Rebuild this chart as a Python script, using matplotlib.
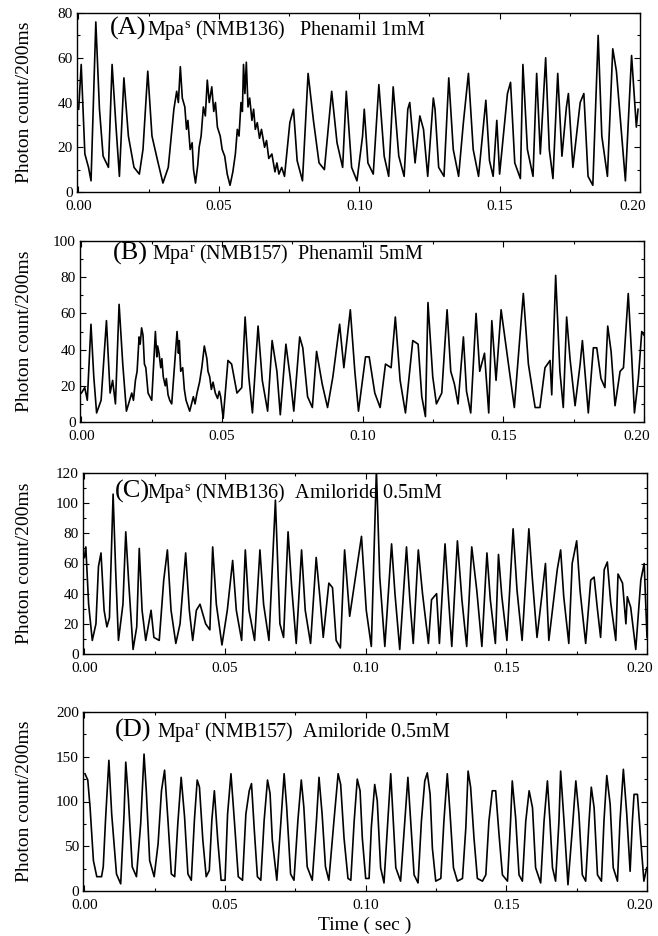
import matplotlib
matplotlib.use("Agg")
import matplotlib.pyplot as plt
import matplotlib.transforms as mtransforms
from matplotlib.ticker import MultipleLocator, FormatStrFormatter

plt.rcParams['font.family'] = ['Liberation Serif', 'DejaVu Serif']
plt.rcParams['mathtext.fontset'] = 'custom'
plt.rcParams['mathtext.rm'] = 'Liberation Serif'
plt.rcParams['mathtext.it'] = 'Liberation Serif:italic'

# (A) Mpa^s, phenamil 1 mM (sec, counts)
a_t = [0.0001, 0.0010, 0.0023, 0.0036, 0.0045, 0.0062, 0.0075, 0.0088, 0.0107, 0.0120,
       0.0133, 0.0146, 0.0162, 0.0178, 0.0198, 0.0217, 0.0230, 0.0247, 0.0262, 0.0282,
       0.0301, 0.0320, 0.0340, 0.0350, 0.0356, 0.0363, 0.0370, 0.0379, 0.0385, 0.0390,
       0.0398, 0.0405, 0.0410, 0.0417, 0.0425, 0.0430, 0.0437, 0.0445, 0.0452, 0.0459,
       0.0466, 0.0475, 0.0482, 0.0488, 0.0495, 0.0505, 0.0512, 0.0521, 0.0530, 0.0540,
       0.0550, 0.0559, 0.0566, 0.0572, 0.0579, 0.0584, 0.0588, 0.0593, 0.0598, 0.0604,
       0.0610, 0.0618, 0.0624, 0.0630, 0.0637, 0.0645, 0.0652, 0.0663, 0.0670, 0.0678,
       0.0689, 0.0700, 0.0707, 0.0714, 0.0724, 0.0734, 0.0753, 0.0766, 0.0779, 0.0798,
       0.0818, 0.0837, 0.0857, 0.0876, 0.0902, 0.0921, 0.0941, 0.0954, 0.0973, 0.0992,
       0.1012, 0.1018, 0.1031, 0.1050, 0.1070, 0.1089, 0.1105, 0.1121, 0.1141, 0.1160,
       0.1173, 0.1180, 0.1199, 0.1216, 0.1229, 0.1244, 0.1264, 0.1270, 0.1283, 0.1302,
       0.1319, 0.1335, 0.1354, 0.1371, 0.1389, 0.1406, 0.1425, 0.1444, 0.1451, 0.1464,
       0.1477, 0.1490, 0.1500, 0.1528, 0.1539, 0.1554, 0.1574, 0.1583, 0.1599, 0.1619,
       0.1632, 0.1645, 0.1664, 0.1677, 0.1690, 0.1707, 0.1722, 0.1738, 0.1745, 0.1761,
       0.1787, 0.1800, 0.1815, 0.1832, 0.1851, 0.1864, 0.1884, 0.1903, 0.1916, 0.1929,
       0.1948, 0.1970, 0.1987, 0.1993]
a_y = [37, 57, 17, 11, 5, 76, 37, 16, 11, 57,
       31, 7, 51, 25, 11, 8, 19, 54, 25, 14,
       4, 11, 37, 45, 40, 56, 42, 38, 28, 32,
       19, 22, 10, 4, 12, 20, 25, 38, 34, 50,
       40, 47, 36, 40, 29, 25, 19, 16, 8, 3,
       9, 17, 28, 25, 40, 36, 57, 44, 58, 38,
       42, 32, 37, 28, 31, 24, 28, 20, 23, 15,
       17, 9, 13, 8, 11, 7, 31, 37, 14, 5,
       53, 32, 13, 10, 45, 22, 11, 45, 11, 5,
       25, 37, 13, 8, 48, 16, 7, 47, 16, 7,
       37, 40, 13, 34, 28, 7, 42, 37, 11, 7,
       51, 19, 7, 31, 53, 19, 7, 32, 41, 14,
       7, 32, 8, 44, 49, 13, 6, 57, 19, 7,
       53, 17, 60, 19, 6, 53, 16, 38, 44, 11,
       40, 44, 7, 3, 70, 25, 7, 64, 54, 34,
       5, 61, 29, 37]

# (B) Mpa^r, phenamil 5 mM
b_t = [0.0000, 0.0012, 0.0021, 0.0034, 0.0044, 0.0054, 0.0070, 0.0089, 0.0102, 0.0111,
       0.0121, 0.0134, 0.0147, 0.0160, 0.0179, 0.0185, 0.0192, 0.0198, 0.0205, 0.0209,
       0.0214, 0.0219, 0.0224, 0.0229, 0.0237, 0.0250, 0.0263, 0.0268, 0.0271, 0.0276,
       0.0282, 0.0286, 0.0291, 0.0298, 0.0302, 0.0308, 0.0314, 0.0321, 0.0340, 0.0345,
       0.0348, 0.0353, 0.0360, 0.0366, 0.0372, 0.0385, 0.0398, 0.0404, 0.0411, 0.0420,
       0.0428, 0.0437, 0.0446, 0.0450, 0.0456, 0.0462, 0.0468, 0.0476, 0.0484, 0.0490,
       0.0495, 0.0504, 0.0521, 0.0534, 0.0553, 0.0570, 0.0582, 0.0595, 0.0608, 0.0628,
       0.0643, 0.0662, 0.0678, 0.0695, 0.0707, 0.0727, 0.0742, 0.0755, 0.0776, 0.0787,
       0.0804, 0.0821, 0.0836, 0.0856, 0.0875, 0.0894, 0.0918, 0.0933, 0.0956, 0.0972,
       0.0985, 0.1010, 0.1023, 0.1043, 0.1062, 0.1081, 0.1101, 0.1116, 0.1133, 0.1152,
       0.1178, 0.1197, 0.1210, 0.1223, 0.1232, 0.1249, 0.1262, 0.1281, 0.1300, 0.1313,
       0.1326, 0.1339, 0.1358, 0.1369, 0.1384, 0.1403, 0.1416, 0.1433, 0.1448, 0.1459,
       0.1474, 0.1492, 0.1518, 0.1539, 0.1571, 0.1589, 0.1613, 0.1630, 0.1648, 0.1666,
       0.1672, 0.1686, 0.1701, 0.1713, 0.1725, 0.1737, 0.1755, 0.1773, 0.1781, 0.1802,
       0.1820, 0.1832, 0.1847, 0.1861, 0.1871, 0.1883, 0.1897, 0.1915, 0.1927, 0.1944,
       0.1956, 0.1966, 0.1980, 0.1992, 0.2000]
b_y = [16, 19, 12, 54, 25, 5, 12, 56, 16, 23,
       10, 65, 32, 6, 16, 12, 23, 28, 47, 43,
       52, 48, 32, 30, 16, 12, 50, 36, 42, 38,
       30, 35, 25, 20, 24, 15, 12, 10, 50, 38,
       45, 28, 30, 18, 12, 6, 14, 10, 16, 22,
       30, 42, 35, 28, 25, 18, 22, 16, 13, 17,
       14, 2, 34, 32, 16, 19, 58, 25, 5, 53,
       23, 6, 45, 28, 4, 43, 25, 6, 47, 41,
       14, 8, 39, 21, 8, 25, 54, 30, 62, 28,
       6, 36, 36, 16, 8, 32, 30, 58, 23, 5,
       45, 43, 14, 3, 66, 25, 10, 16, 62, 28,
       21, 10, 47, 17, 5, 60, 28, 38, 5, 56,
       23, 62, 32, 8, 71, 32, 8, 8, 30, 34,
       15, 81, 28, 8, 58, 35, 9, 32, 45, 5,
       41, 41, 24, 19, 53, 39, 9, 28, 30, 71,
       37, 5, 24, 50, 48]

# (C) Mpa^s, amiloride 0.5 mM
c_t = [0.0000, 0.0005, 0.0015, 0.0028, 0.0041, 0.0050, 0.0059, 0.0070, 0.0080, 0.0089,
       0.0102, 0.0111, 0.0121, 0.0137, 0.0147, 0.0157, 0.0173, 0.0186, 0.0195, 0.0205,
       0.0218, 0.0237, 0.0247, 0.0266, 0.0282, 0.0295, 0.0308, 0.0325, 0.0340, 0.0360,
       0.0373, 0.0385, 0.0398, 0.0411, 0.0431, 0.0446, 0.0456, 0.0469, 0.0489, 0.0508,
       0.0527, 0.0540, 0.0559, 0.0572, 0.0585, 0.0605, 0.0624, 0.0637, 0.0656, 0.0669,
       0.0679, 0.0695, 0.0708, 0.0724, 0.0737, 0.0753, 0.0772, 0.0785, 0.0804, 0.0824,
       0.0837, 0.0849, 0.0869, 0.0882, 0.0895, 0.0910, 0.0925, 0.0943, 0.0985, 0.1002,
       0.1020, 0.1038, 0.1050, 0.1068, 0.1092, 0.1104, 0.1121, 0.1145, 0.1157, 0.1169,
       0.1187, 0.1202, 0.1223, 0.1234, 0.1252, 0.1262, 0.1282, 0.1294, 0.1306, 0.1326,
       0.1342, 0.1359, 0.1377, 0.1395, 0.1413, 0.1431, 0.1443, 0.1461, 0.1472, 0.1484,
       0.1502, 0.1524, 0.1538, 0.1556, 0.1580, 0.1592, 0.1609, 0.1627, 0.1639, 0.1651,
       0.1681, 0.1693, 0.1704, 0.1722, 0.1734, 0.1750, 0.1762, 0.1782, 0.1800, 0.1812,
       0.1823, 0.1835, 0.1848, 0.1859, 0.1871, 0.1889, 0.1897, 0.1913, 0.1925, 0.1930,
       0.1942, 0.1960, 0.1978, 0.1990, 0.2000]
c_y = [64, 71, 33, 9, 20, 58, 67, 29, 18, 24,
       106, 56, 9, 33, 81, 49, 3, 18, 70, 29,
       9, 29, 11, 9, 49, 69, 29, 7, 20, 67,
       29, 9, 29, 33, 20, 16, 71, 33, 6, 29,
       62, 29, 9, 69, 29, 9, 69, 33, 9, 62,
       102, 20, 11, 81, 44, 7, 69, 29, 7, 64,
       38, 11, 47, 44, 9, 4, 69, 25, 78, 29,
       5, 122, 51, 5, 73, 40, 3, 71, 36, 7,
       69, 40, 7, 36, 40, 7, 73, 38, 5, 75,
       36, 5, 71, 42, 5, 67, 36, 7, 66, 38,
       9, 83, 42, 9, 83, 51, 11, 40, 60, 9,
       56, 69, 38, 7, 60, 75, 42, 7, 49, 51,
       31, 11, 56, 61, 34, 9, 53, 47, 20, 38,
       31, 3, 49, 60, 11]

# (D) Mpa^r, amiloride 0.5 mM
d_t = [0.0002, 0.0012, 0.0020, 0.0032, 0.0044, 0.0061, 0.0067, 0.0075, 0.0087, 0.0097,
       0.0114, 0.0129, 0.0141, 0.0147, 0.0156, 0.0170, 0.0185, 0.0200, 0.0212, 0.0220,
       0.0232, 0.0248, 0.0262, 0.0274, 0.0285, 0.0297, 0.0309, 0.0321, 0.0332, 0.0344,
       0.0356, 0.0368, 0.0380, 0.0391, 0.0401, 0.0409, 0.0421, 0.0433, 0.0444, 0.0453,
       0.0462, 0.0474, 0.0486, 0.0500, 0.0509, 0.0521, 0.0533, 0.0547, 0.0562, 0.0574,
       0.0586, 0.0594, 0.0604, 0.0615, 0.0627, 0.0639, 0.0651, 0.0660, 0.0668, 0.0684,
       0.0698, 0.0710, 0.0719, 0.0733, 0.0745, 0.0759, 0.0771, 0.0780, 0.0792, 0.0810,
       0.0825, 0.0834, 0.0845, 0.0857, 0.0869, 0.0887, 0.0902, 0.0911, 0.0923, 0.0937,
       0.0947, 0.0959, 0.0970, 0.0980, 0.0988, 0.1000, 0.1012, 0.1020, 0.1032, 0.1041,
       0.1053, 0.1065, 0.1077, 0.1089, 0.1098, 0.1107, 0.1124, 0.1139, 0.1150, 0.1160,
       0.1172, 0.1186, 0.1198, 0.1210, 0.1219, 0.1229, 0.1237, 0.1249, 0.1267, 0.1278,
       0.1290, 0.1300, 0.1312, 0.1326, 0.1344, 0.1356, 0.1364, 0.1373, 0.1385, 0.1397,
       0.1415, 0.1427, 0.1438, 0.1450, 0.1462, 0.1474, 0.1486, 0.1504, 0.1515, 0.1521,
       0.1533, 0.1545, 0.1557, 0.1569, 0.1581, 0.1593, 0.1604, 0.1622, 0.1634, 0.1646,
       0.1655, 0.1664, 0.1675, 0.1687, 0.1693, 0.1705, 0.1719, 0.1735, 0.1747, 0.1758,
       0.1770, 0.1782, 0.1794, 0.1802, 0.1812, 0.1824, 0.1838, 0.1847, 0.1857, 0.1869,
       0.1880, 0.1895, 0.1904, 0.1916, 0.1928, 0.1940, 0.1948, 0.1954, 0.1966, 0.1978,
       0.1989, 0.1999]
d_y = [131, 124, 94, 34, 16, 16, 27, 79, 146, 86,
       19, 8, 86, 144, 105, 27, 16, 75, 153, 112,
       34, 16, 53, 112, 135, 79, 19, 16, 75, 127,
       83, 19, 12, 79, 124, 116, 57, 16, 23, 79,
       112, 57, 12, 12, 86, 131, 79, 16, 12, 86,
       112, 120, 68, 16, 12, 79, 124, 109, 57, 12,
       75, 131, 94, 19, 12, 79, 124, 94, 27, 12,
       79, 127, 86, 27, 12, 78, 131, 119, 59, 14,
       12, 78, 125, 112, 59, 14, 14, 71, 119, 101,
       26, 9, 71, 131, 78, 26, 11, 78, 127, 78,
       18, 9, 78, 123, 132, 108, 48, 11, 14, 78,
       131, 86, 26, 11, 14, 71, 134, 116, 59, 14,
       11, 18, 78, 112, 112, 63, 18, 11, 78, 123,
       82, 18, 11, 78, 112, 93, 26, 9, 78, 123,
       78, 26, 11, 78, 134, 78, 7, 71, 123, 86,
       18, 11, 78, 116, 93, 18, 11, 78, 129, 97,
       26, 11, 78, 136, 86, 22, 78, 108, 108, 56,
       11, 26]

tags = ['(A)', '(B)', '(C)', '(D)']
captions = [r'Mpa$^{\mathrm{s}}$ (NMB136)   Phenamil 1mM',
            r'Mpa$^{\mathrm{r}}$ (NMB157)  Phenamil 5mM',
            r'Mpa$^{\mathrm{s}}$ (NMB136)  Amiloride 0.5mM',
            r'Mpa$^{\mathrm{r}}$ (NMB157)  Amiloride 0.5mM']
y_max = [80, 100, 120, 200]
y_major = [20, 20, 20, 50]
y_minor = [10, 10, 10, 25]

series = [(a_t, a_y), (b_t, b_y), (c_t, c_y), (d_t, d_y)]

# axes rectangles in pixels: left, top, right, bottom
W, H = 658, 936
boxes = [(77, 13, 640, 192), (80, 241, 644, 422), (83, 473, 647, 654), (83, 712, 647, 891)]
tag_x = [0.058, 0.058, 0.057, 0.057]
cap_x = [0.124, 0.128, 0.113, 0.131]
text_y = [0.877, 0.90, 0.862, 0.86]

fig = plt.figure(figsize=(W / 100, H / 100), dpi=100)
shift = mtransforms.ScaledTranslation(-5 / 72, 0, fig.dpi_scale_trans)

for i in range(4):
    l, t, r, b = boxes[i]
    ax = fig.add_axes([l / W, 1 - b / H, (r - l) / W, (b - t) / H])
    x, y = series[i]
    ax.plot(x, y, color='black', lw=1.2)
    ax.set_xlim(-0.0005, 0.2)
    ax.set_ylim(0, y_max[i])
    ax.xaxis.set_major_locator(MultipleLocator(0.05))
    ax.xaxis.set_minor_locator(MultipleLocator(0.025))
    ax.xaxis.set_major_formatter(FormatStrFormatter('%.2f'))
    ax.yaxis.set_major_locator(MultipleLocator(y_major[i]))
    ax.yaxis.set_minor_locator(MultipleLocator(y_minor[i]))
    ax.tick_params(which='both', direction='in', top=True, right=True, labelsize=11)
    ax.tick_params(which='major', length=4, width=0.8)
    ax.tick_params(which='minor', length=2.5, width=0.8)
    ax.tick_params(axis='x', pad=6)
    ax.tick_params(axis='y', pad=3)
    for s in ax.spines.values():
        s.set_linewidth(1.0)
    # keep the last time label inside the figure
    for lab in ax.get_xticklabels():
        if lab.get_text() == '0.20':
            lab.set_transform(lab.get_transform() + shift)
    ax.set_ylabel('Photon count/200ms', fontsize=14)
    ax.yaxis.set_label_coords((33 - l) / (r - l), 0.5)
    ax.text(tag_x[i], text_y[i], tags[i], transform=ax.transAxes, fontsize=19, va='baseline')
    ax.text(cap_x[i], text_y[i], captions[i], transform=ax.transAxes, fontsize=14.5, va='baseline')
    if i == 3:
        ax.set_xlabel('Time ( sec )', fontsize=14, labelpad=3)

fig.savefig('out.png', dpi=100)
